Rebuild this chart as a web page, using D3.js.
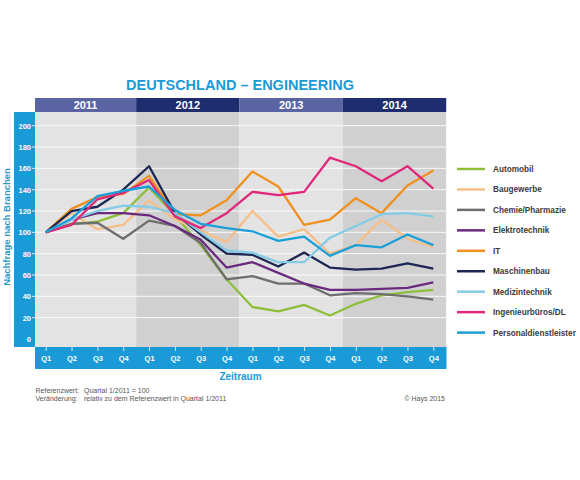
<!DOCTYPE html>
<html><head><meta charset="utf-8">
<script src="https://cdn.jsdelivr.net/npm/d3@7"></script>
<style>body{margin:0;background:#fff}svg{display:block}text{font-family:Arial,"Liberation Sans",sans-serif}</style>
</head><body><svg id="c" width="580" height="480"></svg>
<script>
const years = ["2011","2012","2013","2014"];
const quarters = ["Q1","Q2","Q3","Q4"];
const periods = years.flatMap(y => quarters.map(q => q + " " + y));
const yTicks = [0,20,40,60,80,100,120,140,160,180,200];
const seriesNames = ["Automobil","Baugewerbe","Chemie/Pharmazie","Elektrotechnik","IT","Maschinenbau","Medizintechnik","Ingenieurbüros/DL","Personaldienstleister"];
const automobil      = [100,108,110,118,142,116, 88, 56, 30, 26, 32, 22, 33, 41, 44, 46];
const baugewerbe     = [100,118,103,107,130,112,102, 91,120, 96,103, 80, 88,112, 94, 86];
const chemie         = [100,108,109, 94,111,106, 90, 56, 59, 52, 52, 41, 43, 42, 40, 37];
const elektrotechnik = [100,112,118,118,116,106, 93, 67, 72, 62, 52, 46, 46, 47, 48, 53];
const it             = [100,122,133,136,153,117,116,130,157,143,107,112,132,118,144,158];
const maschinenbau   = [100,120,124,140,162,118, 98, 80, 79, 68, 81, 67, 65, 66, 71, 66];
const medizintechnik = [100,112,120,125,124,118,100, 83, 81, 72, 72, 95,106,117,118,115];
const ingenieur      = [100,107,131,137,149,115,104,118,138,135,138,170,162,148,162,141];
const personal       = [100,113,134,139,143,121,108,104,101, 92, 96, 78, 88, 86, 98, 88];
const seriesValues = [automobil,baugewerbe,chemie,elektrotechnik,it,maschinenbau,medizintechnik,ingenieur,personal];
const colors = ["#8fbf3a","#f5bf8a","#6e6e6e","#6a2a7e","#f0901e","#1c2754","#86cbe6","#e0287a","#1a9fd9"];

const svg = d3.select("#c");
const blue = "#1a9ad7";
const L = 35, R = 446.5, T = 112, B = 347;
const x = d3.scalePoint().domain(periods).range([45.7, 433.3]);
const y = d3.scaleLinear().domain([0,200]).range([339, 125.7]);
const step = x.step();

// title
svg.append("text").attr("x",240).attr("y",89.5).attr("text-anchor","middle")
  .attr("font-size",14.5).attr("font-weight","bold").attr("fill",blue).text("DEUTSCHLAND – ENGINEERING");

// year backgrounds and header
const yearBg = ["#e3e3e3","#d0d0d0","#e3e3e3","#d0d0d0"];
const yearHd = ["#5b64a2","#1e2d6d","#5b64a2","#1e2d6d"];
years.forEach((yr,k) => {
  const x0 = Math.max(L, x(periods[4*k]) - step/2);
  const x1 = Math.min(R, x(periods[4*k+3]) + step/2);
  svg.append("rect").attr("x",x0).attr("y",T).attr("width",x1-x0).attr("height",B-T).attr("fill",yearBg[k]);
  svg.append("rect").attr("x",x0).attr("y",98).attr("width",x1-x0).attr("height",14).attr("fill",yearHd[k]);
  svg.append("text").attr("x",(x0+x1)/2).attr("y",109).attr("text-anchor","middle")
    .attr("font-size",11).attr("font-weight","bold").attr("fill","#fff").text(yr);
});

// axis bands
svg.append("rect").attr("x",14).attr("y",T).attr("width",L-14).attr("height",B-T).attr("fill",blue);
svg.append("rect").attr("x",L).attr("y",B).attr("width",R-L).attr("height",22).attr("fill",blue);

// gridlines
svg.append("g").selectAll("line").data(yTicks.filter(d=>d>0)).join("line")
  .attr("x1",32).attr("x2",R).attr("y1",d=>y(d)).attr("y2",d=>y(d))
  .attr("stroke","#fff").attr("stroke-opacity",0.85).attr("stroke-width",1);

// y axis
const yAxis = d3.axisLeft(y).tickValues(yTicks).tickSize(0).tickPadding(0);
const gy = svg.append("g").attr("transform","translate(31,0)").call(yAxis);
gy.select(".domain").remove();
gy.selectAll("text").attr("fill","#fff").attr("font-size",7.5).attr("font-weight","bold")
  .attr("font-family","Arial, 'Liberation Sans', sans-serif");

// x axis
const xAxis = d3.axisBottom(x).tickSize(4).tickPadding(5).tickFormat(d => d.split(" ")[0]);
const gx = svg.append("g").attr("transform",`translate(0,${B})`).call(xAxis);
gx.select(".domain").remove();
gx.selectAll("line").attr("stroke","#fff").attr("stroke-opacity",0.8);
gx.selectAll("text").attr("fill","#fff").attr("font-size",7.5).attr("font-weight","bold")
  .attr("font-family","Arial, 'Liberation Sans', sans-serif");

// axis titles
svg.append("text").attr("transform","translate(9.5,227) rotate(-90)").attr("text-anchor","middle")
  .attr("font-size",9.5).attr("font-weight","bold").attr("fill",blue).text("Nachfrage nach Branchen");
svg.append("text").attr("x",240.5).attr("y",380).attr("text-anchor","middle")
  .attr("font-size",10).attr("font-weight","bold").attr("fill",blue).text("Zeitraum");

// lines
const line = d3.line().x((d,i)=>x(periods[i])).y(d=>y(d));
svg.append("g").selectAll("path").data(seriesValues).join("path")
  .attr("d",line).attr("fill","none").attr("stroke",(d,i)=>colors[i])
  .attr("stroke-width",2.3).attr("stroke-linejoin","round");

// legend
const lg = svg.append("g");
seriesNames.forEach((n,i) => {
  const yy = 169 + i*20.45;
  lg.append("line").attr("x1",457).attr("x2",485).attr("y1",yy).attr("y2",yy)
    .attr("stroke",colors[i]).attr("stroke-width",2.5);
  lg.append("text").attr("x",493).attr("y",yy+3).attr("font-size",8.2).attr("font-weight","bold")
    .attr("fill","#3a3a3a").text(n);
});

// footnotes
const fn = svg.append("g").attr("font-size",7).attr("fill","#555");
fn.append("text").attr("x",35.5).attr("y",393).text("Referenzwert:");
fn.append("text").attr("x",84).attr("y",393).text("Quartal 1/2011 = 100");
fn.append("text").attr("x",35.5).attr("y",401).text("Veränderung:");
fn.append("text").attr("x",84).attr("y",401).text("relativ zu dem Referenzwert in Quartal 1/2011");
fn.append("text").attr("x",445).attr("y",401).attr("text-anchor","end").text("© Hays 2015");
</script></body></html>
